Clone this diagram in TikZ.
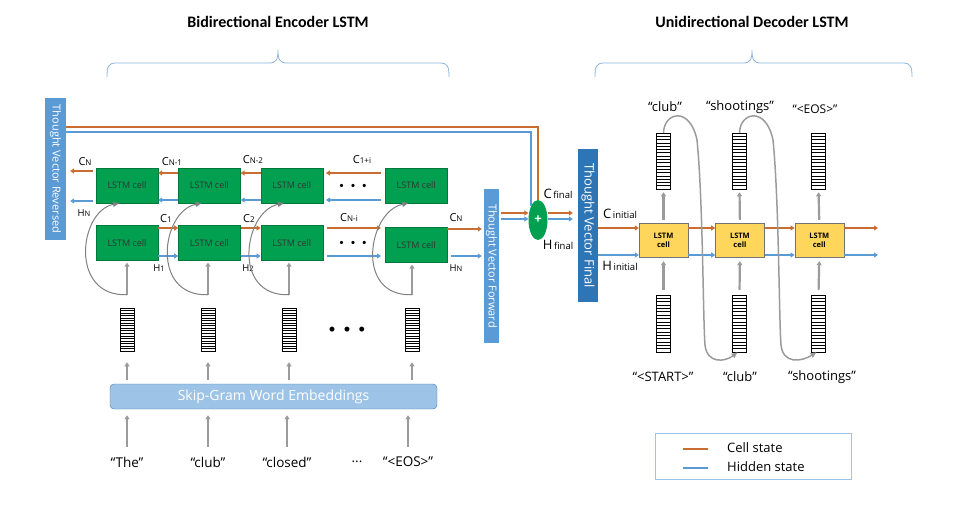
\documentclass[tikz,border=0pt]{standalone}
\usepackage{fontspec}
\setmainfont{Carlito}
\newfontfamily\uifont{Open Sans}
\usetikzlibrary{positioning,arrows.meta,calc,shapes.geometric}

\definecolor{cellcol}{RGB}{200,110,50}
\definecolor{hidcol}{RGB}{91,155,213}
\definecolor{encgreen}{RGB}{0,160,80}
\definecolor{decyellow}{RGB}{255,214,92}
\definecolor{tvlight}{RGB}{91,155,213}
\definecolor{tvdark}{RGB}{46,117,182}
\definecolor{skipblue}{RGB}{157,195,230}
\definecolor{arrgray}{RGB}{155,155,155}
\definecolor{bracecol}{RGB}{140,180,220}

\newcommand{\enclbl}[2]{{\fontsize{11}{12}\selectfont #1}{\fontsize{8}{9}\selectfont #2}}
\newcommand{\hidlbl}[2]{{\fontsize{9.5}{11}\selectfont #1}{\fontsize{7.5}{8}\selectfont #2}}
\newcommand{\statelbl}[2]{{\fontsize{13}{14}\selectfont #1}\,{\fontsize{9.5}{10}\selectfont #2}}
\newcommand{\topbrace}[3]{\draw[bracecol, line width=0.8pt] (#1,77) .. controls (#1,67) and (#1+1,63) .. (#1+9,63) -- (#2-9,63) .. controls (#2-2,63) and (#2,60) .. (#2,50) .. controls (#2,60) and (#2+2,63) .. (#2+9,63) -- (#3-9,63) .. controls (#3-1,63) and (#3,67) .. (#3,77);}

\begin{document}
\begin{tikzpicture}[x=1pt, y=-1pt,
    node distance=20pt and 20pt,
    enccell/.style={rectangle, draw=encgreen!75!black, fill=encgreen, minimum width=62pt, minimum height=35pt, inner sep=0pt, font=\uifont\fontsize{9}{10}\selectfont, text=black!80},
    deccell/.style={rectangle, draw=black!55, fill=decyellow, minimum width=49pt, minimum height=34pt, inner sep=0pt, align=center, font=\uifont\fontsize{7.5}{9}\selectfont\bfseries},
    embvec/.style={rectangle, draw=black, line width=0.5pt, fill=white, minimum width=14pt, minimum height=43pt, inner sep=0pt, path picture={
        \foreach \k in {1,...,16}
          \draw[line width=0.6pt] ($(path picture bounding box.north west)!\k/17!(path picture bounding box.south west)$) -- ($(path picture bounding box.north east)!\k/17!(path picture bounding box.south east)$);}},
    tvbar/.style={rectangle, rotate=-90, text=white, inner sep=0pt},
    cstate/.style={draw=cellcol, line width=2pt, -{Triangle[length=4pt, width=5pt]}},
    hstate/.style={draw=hidcol, line width=2pt, -{Triangle[length=4pt, width=5pt]}},
    feed/.style={draw=arrgray, line width=2.2pt, -{Triangle[length=4pt, width=5pt]}},
    loopback/.style={draw=black!50, line width=1pt, -{Triangle[length=6pt, width=5pt]}},
    lbl/.style={inner sep=0pt, font=\uifont\fontsize{13}{15}\selectfont},
    slbl/.style={inner sep=0pt, font=\uifont},
    dots/.style={inner sep=0pt, font=\fontsize{9}{10}\selectfont}
]
\useasboundingbox (0,0) rectangle (966,509);

% Titles and braces
\node[inner sep=0pt, font=\fontsize{16}{18}\selectfont\bfseries] (encTitle) at (278,22) {Bidirectional Encoder LSTM};
\node[inner sep=0pt, font=\fontsize{16}{18}\selectfont\bfseries] (decTitle) at (752,22) {Unidirectional Decoder LSTM};
\topbrace{107}{278}{449}
\topbrace{595}{752}{912}

% Encoder: backward row and forward row
\node[enccell] (bwdA) at (127,185.5) {LSTM cell};
\node[enccell, right=of bwdA] (bwdB) {LSTM cell};
\node[enccell, right=of bwdB] (bwdC) {LSTM cell};
\node[enccell, right=62pt of bwdC] (bwdD) {LSTM cell};
\node[enccell, below=22pt of bwdA] (fwdA) {LSTM cell};
\node[enccell, below=22pt of bwdB] (fwdB) {LSTM cell};
\node[enccell, below=22pt of bwdC] (fwdC) {LSTM cell};
\node[enccell, below=24pt of bwdD] (fwdD) {LSTM cell};
\node[dots] (dotsTop) at (353,186) {•\hspace{7pt}•\hspace{7pt}•};
\node[dots] (dotsBot) at (353,243) {•\hspace{7pt}•\hspace{7pt}•};

% Thought vectors and the sum
\node[tvbar, fill=tvlight, minimum width=142pt, minimum height=21pt, font=\uifont\fontsize{11}{12}\selectfont] (tvrev) at (55.5,169) {Thought Vector Reversed};
\node[tvbar, fill=tvlight, minimum width=154pt, minimum height=15pt, font=\uifont\fontsize{11}{12}\selectfont] (tvfwd) at (491.5,266) {Thought Vector Forward};
\node[tvbar, fill=tvdark, minimum width=153pt, minimum height=20pt, font=\uifont\fontsize{13}{14}\selectfont] (tvfin) at (588,225.5) {Thought Vector Final};
\node[ellipse, fill=encgreen, minimum width=19pt, minimum height=40pt, inner sep=0pt, text=white, font=\uifont\fontsize{13}{14}\selectfont\bfseries] (plus) at (538,220) {+};

% Embeddings
\node[embvec] (embA) at (127,329.5) {};
\node[embvec] (embB) at (208,329.5) {};
\node[embvec] (embC) at (289,329.5) {};
\node[embvec] (embD) at (412,329.5) {};
\node[dots, font=\fontsize{14}{15}\selectfont] (dotsEmb) at (347,330) {•\hspace{8pt}•\hspace{8pt}•};
\node[rectangle, rounded corners=4pt, draw=hidcol!80!black, fill=skipblue, minimum width=327pt, minimum height=25pt, text=white, font=\uifont\fontsize{14}{16}\selectfont] (skip) at (273.5,396.5) {Skip-Gram Word Embeddings};

% Input words
\node[lbl, font=\uifont\fontsize{13.5}{15}\selectfont] (wA) at (127,462) {“The”};
\node[lbl, font=\uifont\fontsize{13.5}{15}\selectfont] (wB) at (208,462) {“club”};
\node[lbl, font=\uifont\fontsize{13.5}{15}\selectfont] (wC) at (287,462) {“closed”};
\node[lbl, font=\uifont\fontsize{13.5}{15}\selectfont] (wDots) at (357,462) {...};
\node[lbl, font=\uifont\fontsize{13.5}{15}\selectfont] (wD) at (408,462) {“<EOS>”};

% Decoder
\node[deccell] (decA) at (663.5,240) {LSTM\\cell};
\node[deccell, right=27pt of decA] (decB) {LSTM\\cell};
\node[deccell, right=30pt of decB] (decC) {LSTM\\cell};
\node[embvec, minimum height=56pt] (outA) at (663.5,161) {};
\node[embvec, minimum height=56pt] (outB) at (739.5,161) {};
\node[embvec, minimum height=56pt] (outC) at (818.5,161) {};
\node[embvec, minimum height=57pt] (inA) at (663.5,323.5) {};
\node[embvec, minimum height=57pt] (inB) at (739.5,323.5) {};
\node[embvec, minimum height=57pt] (inC) at (818.5,323.5) {};
\node[lbl] (oA) at (665,107) {“club”};
\node[lbl] (oB) at (740,107) {“shootings”};
\node[lbl, font=\uifont\fontsize{12}{13}\selectfont] (oC) at (815,109) {“<EOS>”};
\node[lbl] (iA) at (663,377) {“<START>”};
\node[lbl] (iB) at (740,377) {“club”};
\node[lbl] (iC) at (822,377) {“shootings”};
\coordinate (decOutC) at (878,228);
\coordinate (decOutH) at (878,255);

% State labels
\node[slbl] (cNtop) at (85,162) {\enclbl{C}{N}};
\node[slbl] (cN1) at (172,162) {\enclbl{C}{N-1}};
\node[slbl] (cN2) at (253,160) {\enclbl{C}{N-2}};
\node[slbl] (c1i) at (362,160) {\enclbl{C}{1+i}};
\node[slbl] (hNtop) at (84,213) {\hidlbl{H}{N}};
\node[slbl] (c1) at (166,219) {\enclbl{C}{1}};
\node[slbl] (c2) at (249,219) {\enclbl{C}{2}};
\node[slbl] (cNi) at (349,218) {\enclbl{C}{N-i}};
\node[slbl] (cNbot) at (456,218) {\enclbl{C}{N}};
\node[slbl] (h1) at (159,268) {\hidlbl{H}{1}};
\node[slbl] (h2) at (248,268) {\hidlbl{H}{2}};
\node[slbl] (hNbot) at (456,268) {\hidlbl{H}{N}};
\node[slbl] (cfin) at (558,194) {\statelbl{C}{final}};
\node[slbl] (hfin) at (558,245) {\statelbl{H}{final}};
\node[slbl] (cini) at (620,214) {\statelbl{C}{initial}};
\node[slbl] (hini) at (620,266) {\statelbl{H}{initial}};

% Arrows - backward row (to the left)
\foreach \a/\b in {bwdB/bwdA, bwdC/bwdB} {
  \draw[cstate] (\a.west |- 0,173) -- (\b.east |- 0,173);
  \draw[hstate] (\a.west |- 0,200) -- (\b.east |- 0,200);
}
\draw[cstate, shorten <=4pt, shorten >=3pt] (bwdD.west |- 0,173) -- (bwdC.east |- 0,173);
\draw[hstate, shorten <=4pt, shorten >=3pt] (bwdD.west |- 0,200) -- (bwdC.east |- 0,200);
\draw[cstate, shorten <=3pt, shorten >=4pt] (bwdA.west |- 0,171) -- (tvrev.north |- 0,171);
\draw[hstate, shorten <=3pt, shorten >=4pt] (bwdA.west |- 0,201) -- (tvrev.north |- 0,201);

% Arrows - forward row (to the right)
\foreach \a/\b in {fwdA/fwdB, fwdB/fwdC} {
  \draw[cstate] (\a.east |- 0,228) -- (\b.west |- 0,228);
  \draw[hstate] (\a.east |- 0,256) -- (\b.west |- 0,256);
}
\draw[cstate, shorten <=4pt, shorten >=4pt] (fwdC.east |- 0,228) -- (fwdD.west |- 0,228);
\draw[hstate, shorten <=4pt, shorten >=4pt] (fwdC.east |- 0,256) -- (fwdD.west |- 0,256);
\draw[cstate, shorten >=2pt] (fwdD.east |- 0,229) -- (tvfwd.south |- 0,229);
\draw[hstate, shorten <=4pt, shorten >=2pt] (fwdD.east |- 0,256) -- (tvfwd.south |- 0,256);

% Arrows - thought vectors
\draw[draw=cellcol, line width=2pt] (tvrev.north |- 0,127) -| (plus.north);
\draw[draw=hidcol, line width=2pt] (tvrev.north |- 0,132) -| (plus.north west);
\draw[cstate, shorten <=2pt] (tvfwd.north |- 0,213) -- (plus.west |- 0,213);
\draw[hstate, shorten <=2pt] (tvfwd.north |- 0,219) -- (plus.west |- 0,219);
\draw[cstate, shorten >=5pt] (plus.east |- 0,213) -- (tvfin.south |- 0,213);
\draw[hstate, shorten >=5pt] (plus.east |- 0,219) -- (tvfin.south |- 0,219);
\draw[cstate] (tvfin.north |- 0,228) -- (decA.west |- 0,228);
\draw[hstate] (tvfin.north |- 0,255) -- (decA.west |- 0,255);

% Arrows - inputs and recurrence
\foreach \w in {wA, wB, wC, wD}
  \draw[feed, shorten <=10pt, shorten >=6pt] (\w.north) -- (skip.south -| \w.north);
\foreach \e/\f/\b in {embA/fwdA/bwdA, embB/fwdB/bwdB, embC/fwdC/bwdC, embD/fwdD/bwdD} {
  \draw[feed, shorten <=4pt, shorten >=11pt] (skip.north -| \e.south) -- (\e.south);
  \draw[feed, shorten >=2pt] ([yshift=13pt]\e.north) -- (\f.south -| \e.north);
  \draw[loopback] ([yshift=13pt]\e.north) .. controls +(-58,2) and +(-40,8) .. ([xshift=-8pt]\b.south);
}

% Arrows - decoder
\draw[cstate] (decA.east |- 0,228) -- (decB.west |- 0,228);
\draw[hstate] (decA.east |- 0,255) -- (decB.west |- 0,255);
\draw[cstate] (decB.east |- 0,228) -- (decC.west |- 0,228);
\draw[hstate] (decB.east |- 0,255) -- (decC.west |- 0,255);
\draw[cstate] (decC.east |- 0,228) -- (decOutC);
\draw[hstate] (decC.east |- 0,255) -- (decOutH);
\foreach \d/\o/\i in {decA/outA/inA, decB/outB/inB, decC/outC/inC} {
  \draw[feed, shorten <=3pt, shorten >=3pt] (\d.north) -- (\o.south);
  \draw[feed, shorten <=5pt, shorten >=4pt] (\i.north) -- (\d.south);
}
\draw[draw=arrgray, line width=1.5pt, -{Triangle[length=6pt, width=5pt]}] (outA.north) .. controls (664,112) and (690,106) .. (697,140) .. controls (703,200) and (703,320) .. (705,345) .. controls (707,364) and (725,362) .. ([xshift=-2pt]inB.south);
\draw[draw=arrgray, line width=1.5pt, -{Triangle[length=6pt, width=5pt]}] (outB.north) .. controls (740,112) and (766,106) .. (773,140) .. controls (779,200) and (779,320) .. (781,345) .. controls (783,364) and (801,362) .. ([xshift=-2pt]inC.south);

% Legend
\node[rectangle, draw=hidcol!60, line width=0.8pt, minimum width=196pt, minimum height=46pt] (legend) at (753,456) {};
\draw[draw=cellcol, line width=2pt] (683,449) -- (708,449);
\draw[draw=hidcol, line width=2pt] (683,468) -- (708,468);
\node[anchor=west, inner sep=0pt, font=\uifont\fontsize{13}{14}\selectfont] (legC) at (727,448) {Cell state};
\node[anchor=west, inner sep=0pt, font=\uifont\fontsize{13}{14}\selectfont] (legH) at (727,467) {Hidden state};

\end{tikzpicture}
\end{document}
